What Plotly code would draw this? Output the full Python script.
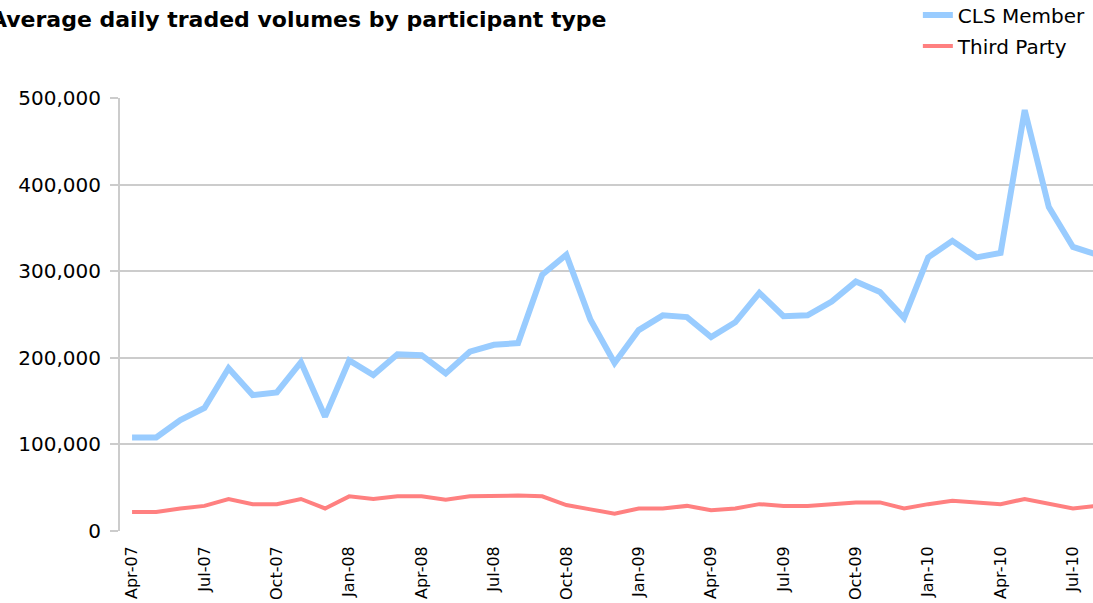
import plotly.graph_objects as go

months = ["Apr-07", "May-07", "Jun-07", "Jul-07", "Aug-07", "Sep-07", "Oct-07", "Nov-07", "Dec-07",
          "Jan-08", "Feb-08", "Mar-08", "Apr-08", "May-08", "Jun-08", "Jul-08", "Aug-08", "Sep-08",
          "Oct-08", "Nov-08", "Dec-08", "Jan-09", "Feb-09", "Mar-09", "Apr-09", "May-09", "Jun-09",
          "Jul-09", "Aug-09", "Sep-09", "Oct-09", "Nov-09", "Dec-09", "Jan-10", "Feb-10", "Mar-10",
          "Apr-10", "May-10", "Jun-10", "Jul-10", "Aug-10"]

cls_member = [108000, 108000, 128000, 142000, 188000, 157000, 160000, 195000, 132000,
              197000, 180000, 204000, 203000, 182000, 207000, 215000, 217000, 296000,
              319000, 244000, 194000, 232000, 249000, 247000, 224000, 241000, 275000,
              248000, 249000, 265000, 288000, 276000, 246000, 316000, 335000, 316000,
              321000, 486000, 374000, 328000, 319000]

third_party = [22000, 22000, 26000, 29000, 37000, 31000, 31000, 37000, 26000,
               40000, 37000, 40000, 40000, 36000, 40000, 41000, 41000, 40000,
               30000, 25000, 20000, 26000, 26000, 29000, 24000, 26000, 31000,
               29000, 29000, 31000, 33000, 33000, 26000, 31000, 35000, 33000,
               31000, 37000, 31000, 26000, 29000]

tick_labels = months[::3]
title_text = "Average daily traded volumes by participant type"

fig = go.Figure()
fig.add_trace(go.Scatter(x=months, y=cls_member, mode="lines", name="CLS Member",
                         legendgroup="a",
                         line=dict(color="#99ccff", width=6)))
fig.add_trace(go.Scatter(x=months, y=third_party, mode="lines", name="Third Party",
                         legendgroup="b",
                         line=dict(color="#ff8080", width=4)))

fig.update_layout(
    width=1093, height=603,
    margin=dict(l=120, r=0, t=98, b=72, autoexpand=False),
    paper_bgcolor="white", plot_bgcolor="white",
    font=dict(family="DejaVu Sans", color="black"),
    showlegend=True,
    legend=dict(x=0.82, xanchor="left", y=1.237, yanchor="top",
                font=dict(size=20, family="DejaVu Sans"),
                bgcolor="rgba(0,0,0,0)", tracegroupgap=2),
    annotations=[dict(text="<b>" + title_text + "</b>", xref="paper", yref="paper",
                      x=-0.1357, y=1.1824, xanchor="left", yanchor="middle",
                      showarrow=False, font=dict(size=22, family="DejaVu Sans"))],
)

fig.update_xaxes(type="category", range=[-0.5, 39.83], automargin=False,
                 tickvals=tick_labels, ticktext=tick_labels, tickangle=-90,
                 ticks="", showgrid=False, showline=False, zeroline=False,
                 ticklabelstandoff=11,
                 tickfont=dict(size=16, family="DejaVu Sans"))
fig.update_yaxes(range=[0, 500000], tickvals=[0, 100000, 200000, 300000, 400000, 500000],
                 tickformat=",d", showgrid=True, gridcolor="#cccccc", gridwidth=2,
                 showline=True, linecolor="#cccccc", linewidth=2, automargin=False,
                 ticks="outside", ticklen=8, tickcolor="#cccccc", tickwidth=2,
                 zeroline=False, ticklabelstandoff=5,
                 tickfont=dict(size=20, family="DejaVu Sans"))

fig.write_html("out.html", config={"displayModeBar": False},
               post_script="document.body.style.margin='0';document.body.style.overflow='hidden';")
